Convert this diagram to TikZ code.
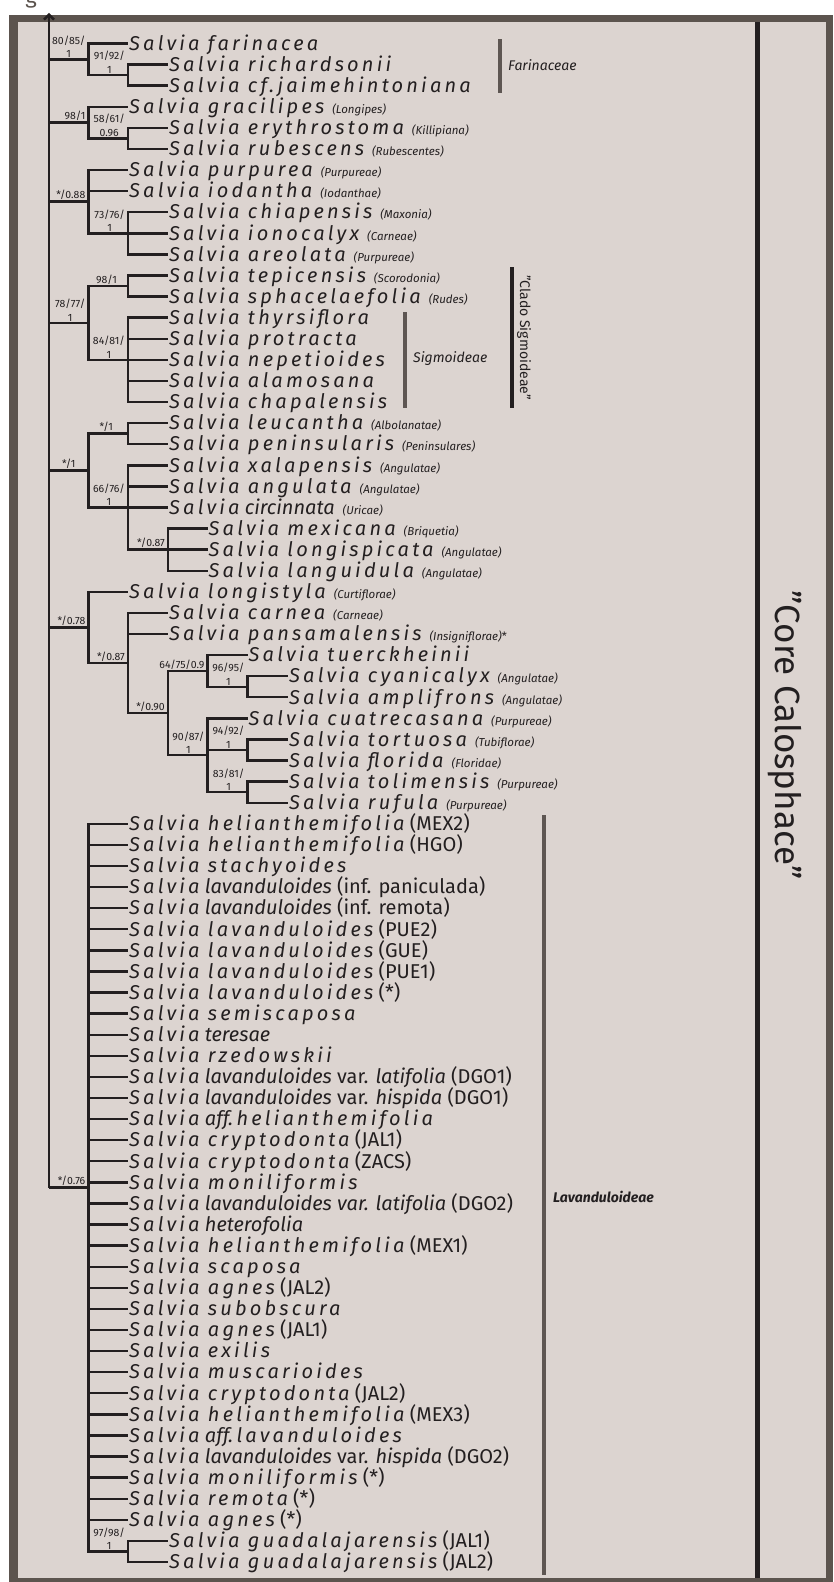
\documentclass[tikz,border=0pt]{standalone}
\usepackage{fontspec}
\setmainfont{Fira Sans}
\newfontfamily\spfont[LetterSpace=16]{Fira Sans}
\usepackage{tikz}
\usetikzlibrary{arrows.meta}
\usepackage{xcolor}
\definecolor{calbg}{RGB}{220,212,208}
\definecolor{calframe}{RGB}{92,84,78}
\definecolor{calink}{RGB}{35,31,32}
\definecolor{calgrey}{RGB}{94,86,82}
\newcommand\spp[1]{{\spfont\itshape #1}}
\newcommand\secn[1]{\hspace{8pt}{\fontsize{11.5}{11.5}\selectfont\itshape(#1)}}

\begin{document}
\begin{tikzpicture}[x=1pt,y=-1pt,
    br/.style={draw=calink,line width=2.4pt},
    tip/.style={anchor=west,inner sep=1pt,text=calink,text height=13.5pt,text depth=0pt,font=\fontsize{20}{20}\selectfont},
    bs/.style={above left,inner sep=1.5pt,xshift=-1.5pt,text=calink,align=center,font=\fontsize{10.5}{13.5}\selectfont},
    grp/.style={draw=calgrey,line width=3.5pt},
    grplbl/.style={inner sep=0pt,text=calink,font=\fontsize{14}{14}\selectfont\itshape}]
        \useasboundingbox (0,0) rectangle (833,1582);
        \fill[white] (0,0) rectangle (833,1582);
        \fill[calframe] (8.5,15) rectangle (833,1582);
        \fill[calbg] (17.5,22) rectangle (826,1577.5);
        \node[anchor=base,inner sep=0pt,text=calframe,font=\fontsize{22}{22}\selectfont] (figg) at (31,4) {g};
        \draw[calink,line width=5pt] (757,22) -- (757,1577.5);

        \begin{scope}[yshift=-43.5pt,y=-21.09pt]
        % internal nodes
        \coordinate (root) at (49,54.25);
        \coordinate (rtop) at (49,-1.45);
        \coordinate (cA) at (88.5,0.75);
        \coordinate (cA1) at (128,1.5);
        \coordinate (cB) at (88.5,3.75);
        \coordinate (cB1) at (128,4.5);
        \coordinate (cC) at (88.5,7.5);
        \coordinate (cC1) at (128,9);
        \coordinate (cD) at (88.5,13.25);
        \coordinate (cD1) at (128,11.5);
        \coordinate (cD2) at (128,15);
        \coordinate (cE) at (88.5,20.25);
        \coordinate (cE1) at (128,18.5);
        \coordinate (cE2) at (128,22);
        \coordinate (cE3) at (168,24);
        \coordinate (cF) at (88.5,27.6875);
        \coordinate (cF1) at (128,29.375);
        \coordinate (cF2) at (168,31.75);
        \coordinate (cF3) at (207.5,29.75);
        \coordinate (cF3a) at (247.5,30.5);
        \coordinate (cF4) at (207.5,33.75);
        \coordinate (cF4a) at (247.5,33.5);
        \coordinate (cF4b) at (247.5,35.5);
        \coordinate (cG) at (88.5,54.25);
        \coordinate (cG1) at (128,71.5);

        % tips
        \node[tip] (t0) at (128,0) {\spp{Salvia farinacea}};
        \node[tip] (t1) at (168,1) {\spp{Salvia richardsonii}};
        \node[tip] (t2) at (168,2) {\spp{Salvia cf.\,jaimehintoniana}};
        \node[tip] (t3) at (128,3) {\spp{Salvia gracilipes}\secn{Longipes}};
        \node[tip] (t4) at (168,4) {\spp{Salvia erythrostoma}\secn{Killipiana}};
        \node[tip] (t5) at (168,5) {\spp{Salvia rubescens}\secn{Rubescentes}};
        \node[tip] (t6) at (128,6) {\spp{Salvia purpurea}\secn{Purpureae}};
        \node[tip] (t7) at (128,7) {\spp{Salvia iodantha}\secn{Iodanthae}};
        \node[tip] (t8) at (168,8) {\spp{Salvia chiapensis}\secn{Maxonia}};
        \node[tip] (t9) at (168,9) {\spp{Salvia ionocalyx}\secn{Carneae}};
        \node[tip] (t10) at (168,10) {\spp{Salvia areolata}\secn{Purpureae}};
        \node[tip] (t11) at (168,11) {\spp{Salvia tepicensis}\secn{Scorodonia}};
        \node[tip] (t12) at (168,12) {\spp{Salvia sphacelaefolia}\secn{Rudes}};
        \node[tip] (t13) at (168,13) {\spp{Salvia thyrsiflora}};
        \node[tip] (t14) at (168,14) {\spp{Salvia protracta}};
        \node[tip] (t15) at (168,15) {\spp{Salvia nepetioides}};
        \node[tip] (t16) at (168,16) {\spp{Salvia alamosana}};
        \node[tip] (t17) at (168,17) {\spp{Salvia chapalensis}};
        \node[tip] (t18) at (168,18) {\spp{Salvia leucantha}\secn{Albolanatae}};
        \node[tip] (t19) at (168,19) {\spp{Salvia peninsularis}\secn{Peninsulares}};
        \node[tip] (t20) at (168,20) {\spp{Salvia xalapensis}\secn{Angulatae}};
        \node[tip] (t21) at (168,21) {\spp{Salvia angulata}\secn{Angulatae}};
        \node[tip] (t22) at (168,22) {\spp{Salvia} \textit{circinnata}\secn{Uricae}};
        \node[tip] (t23) at (207.5,23) {\spp{Salvia mexicana}\secn{Briquetia}};
        \node[tip] (t24) at (207.5,24) {\spp{Salvia longispicata}\secn{Angulatae}};
        \node[tip] (t25) at (207.5,25) {\spp{Salvia languidula}\secn{Angulatae}};
        \node[tip] (t26) at (128,26) {\spp{Salvia longistyla}\secn{Curtiflorae}};
        \node[tip] (t27) at (168,27) {\spp{Salvia carnea}\secn{Carneae}};
        \node[tip] (t28) at (168,28) {\spp{Salvia pansamalensis}\secn{Insigniflorae}{\fontsize{11.5}{11.5}\selectfont*}};
        \node[tip] (t29) at (247.5,29) {\spp{Salvia tuerckheinii}};
        \node[tip] (t30) at (288,30) {\spp{Salvia cyanicalyx}\secn{Angulatae}};
        \node[tip] (t31) at (288,31) {\spp{Salvia amplifrons}\secn{Angulatae}};
        \node[tip] (t32) at (247.5,32) {\spp{Salvia cuatrecasana}\secn{Purpureae}};
        \node[tip] (t33) at (288,33) {\spp{Salvia tortuosa}\secn{Tubiflorae}};
        \node[tip] (t34) at (288,34) {\spp{Salvia florida}\secn{Floridae}};
        \node[tip] (t35) at (288,35) {\spp{Salvia tolimensis}\secn{Purpureae}};
        \node[tip] (t36) at (288,36) {\spp{Salvia rufula}\secn{Purpureae}};
        \node[tip] (t37) at (128,37) {\spp{Salvia helianthemifolia} (MEX2)};
        \node[tip] (t38) at (128,38) {\spp{Salvia helianthemifolia} (HGO)};
        \node[tip] (t39) at (128,39) {\spp{Salvia stachyoides}};
        \node[tip] (t40) at (128,40) {\spp{Salvia} \textit{lavanduloides} (inf. paniculada)};
        \node[tip] (t41) at (128,41) {\spp{Salvia} \textit{lavanduloides} (inf. remota)};
        \node[tip] (t42) at (128,42) {\spp{Salvia lavanduloides} (PUE2)};
        \node[tip] (t43) at (128,43) {\spp{Salvia lavanduloides} (GUE)};
        \node[tip] (t44) at (128,44) {\spp{Salvia lavanduloides} (PUE1)};
        \node[tip] (t45) at (128,45) {\spp{Salvia lavanduloides} (*)};
        \node[tip] (t46) at (128,46) {\spp{Salvia semiscaposa}};
        \node[tip] (t47) at (128,47) {\spp{Salvia} \textit{teresae}};
        \node[tip] (t48) at (128,48) {\spp{Salvia rzedowskii}};
        \node[tip] (t49) at (128,49) {\spp{Salvia} \textit{lavanduloides} var. \textit{latifolia} (DGO1)};
        \node[tip] (t50) at (128,50) {\spp{Salvia} \textit{lavanduloides} var. \textit{hispida} (DGO1)};
        \node[tip] (t51) at (128,51) {\spp{Salvia} \textit{aff.}\,\spp{helianthemifolia}};
        \node[tip] (t52) at (128,52) {\spp{Salvia cryptodonta} (JAL1)};
        \node[tip] (t53) at (128,53) {\spp{Salvia cryptodonta} (ZACS)};
        \node[tip] (t54) at (128,54) {\spp{Salvia moniliformis}};
        \node[tip] (t55) at (128,55) {\spp{Salvia} \textit{lavanduloides var. latifolia} (DGO2)};
        \node[tip] (t56) at (128,56) {\spp{Salvia} \textit{heterofolia}};
        \node[tip] (t57) at (128,57) {\spp{Salvia helianthemifolia} (MEX1)};
        \node[tip] (t58) at (128,58) {\spp{Salvia scaposa}};
        \node[tip] (t59) at (128,59) {\spp{Salvia agnes} (JAL2)};
        \node[tip] (t60) at (128,60) {\spp{Salvia subobscura}};
        \node[tip] (t61) at (128,61) {\spp{Salvia agnes} (JAL1)};
        \node[tip] (t62) at (128,62) {\spp{Salvia exilis}};
        \node[tip] (t63) at (128,63) {\spp{Salvia muscarioides}};
        \node[tip] (t64) at (128,64) {\spp{Salvia cryptodonta} (JAL2)};
        \node[tip] (t65) at (128,65) {\spp{Salvia helianthemifolia} (MEX3)};
        \node[tip] (t66) at (128,66) {\spp{Salvia} \textit{aff.}\,\spp{lavanduloides}};
        \node[tip] (t67) at (128,67) {\spp{Salvia} \textit{lavanduloides} var. \textit{hispida} (DGO2)};
        \node[tip] (t68) at (128,68) {\spp{Salvia moniliformis} (*)};
        \node[tip] (t69) at (128,69) {\spp{Salvia remota} (*)};
        \node[tip] (t70) at (128,70) {\spp{Salvia agnes} (*)};
        \node[tip] (t71) at (168,71) {\spp{Salvia guadalajarensis} (JAL1)};
        \node[tip] (t72) at (168,72) {\spp{Salvia guadalajarensis} (JAL2)};

        % branches
        \draw[br,-{Straight Barb[length=5pt,width=10pt]}] (root) -- (rtop);
        \foreach \c in {cA,cB,cC,cD,cE,cF,cG}
            \draw[br] (root) |- (\c);
        \foreach \p/\c in {cA/cA1,cB/cB1,cC/cC1,cD/cD1,cD/cD2,cE/cE1,cE/cE2,cE2/cE3,
                cF/cF1,cF1/cF2,cF2/cF3,cF2/cF4,cF3/cF3a,cF4/cF4a,cF4/cF4b,cG/cG1}
            \draw[br] (\p) |- (\c);
        \foreach \p/\c in {cA/t0,cA1/t1,cA1/t2,cB/t3,cB1/t4,cB1/t5,cC/t6,cC/t7,
                cC1/t8,cC1/t9,cC1/t10,cD1/t11,cD1/t12,cD2/t13,cD2/t14,cD2/t15,cD2/t16,cD2/t17,
                cE1/t18,cE1/t19,cE2/t20,cE2/t21,cE2/t22,cE3/t23,cE3/t24,cE3/t25,
                cF/t26,cF1/t27,cF1/t28,cF3/t29,cF3a/t30,cF3a/t31,cF4/t32,
                cF4a/t33,cF4a/t34,cF4b/t35,cF4b/t36,cG1/t71,cG1/t72}
            \draw[br] (\p) |- (\c.west);
        \foreach \i in {37,...,70}
            \draw[br] (cG) |- (t\i.west);

        % support values
        \node[bs] (bA) at (cA) {80/85/\\1};
        \node[bs] (bA1) at (cA1) {91/92/\\1};
        \node[bs] (bB) at (cB) {98/1};
        \node[bs] (bB1) at (cB1) {58/61/\\0.96};
        \node[bs] (bC) at (cC) {*/0.88};
        \node[bs] (bC1) at (cC1) {73/76/\\1};
        \node[bs] (bD) at (cD) {78/77/\\1};
        \node[bs,xshift=-8pt] (bD1) at (cD1) {98/1};
        \node[bs] (bD2) at (cD2) {84/81/\\1};
        \node[bs,xshift=-10pt] (bE) at (cE) {*/1};
        \node[bs,xshift=-12pt] (bE1) at (cE1) {*/1};
        \node[bs] (bE2) at (cE2) {66/76/\\1};
        \node[bs] (bE3) at (cE3) {*/0.87};
        \node[bs] (bF) at (cF) {*/0.78};
        \node[bs] (bF1) at (cF1) {*/0.87};
        \node[bs] (bF2) at (cF2) {*/0.90};
        \node[bs] (bF3) at (cF3) {64/75/0.9};
        \node[bs] (bF3a) at (cF3a) {96/95/\\1};
        \node[bs] (bF4) at (cF4) {90/87/\\1};
        \node[bs] (bF4a) at (cF4a) {94/92/\\1};
        \node[bs] (bF4b) at (cF4b) {83/81/\\1};
        \node[bs] (bG) at (cG) {*/0.76};
        \node[bs] (bG1) at (cG1) {97/98/\\1};
        \end{scope}

        % groups
        \draw[grp] (500,39) -- (500,93);
        \node[grplbl,anchor=west] (farLbl) at (508,65) {Farinaceae};
        \draw[grp] (405,312) -- (405,408);
        \node[grplbl,anchor=west] (sigLbl) at (413,359) {Sigmoideae};
        \draw[calink,line width=4pt] (512,267) -- (512,408);
        \node[grplbl,font=\fontsize{14}{14}\selectfont,rotate=-90,anchor=base] (cladoLbl) at (520,337.5) {"Clado Sigmoideae"};
        \draw[grp] (544,815) -- (544,1575);
        \node[grplbl,font=\fontsize{14}{14}\selectfont\bfseries\itshape,anchor=west] (lavLbl) at (553,1197) {Lavanduloideae};
        \node[rotate=-90,anchor=base,inner sep=0pt,text=calink,font=\fontsize{35}{35}\selectfont] (coreLbl) at (775,735) {"Core Calosphace"};
      \end{tikzpicture}
\end{document}
